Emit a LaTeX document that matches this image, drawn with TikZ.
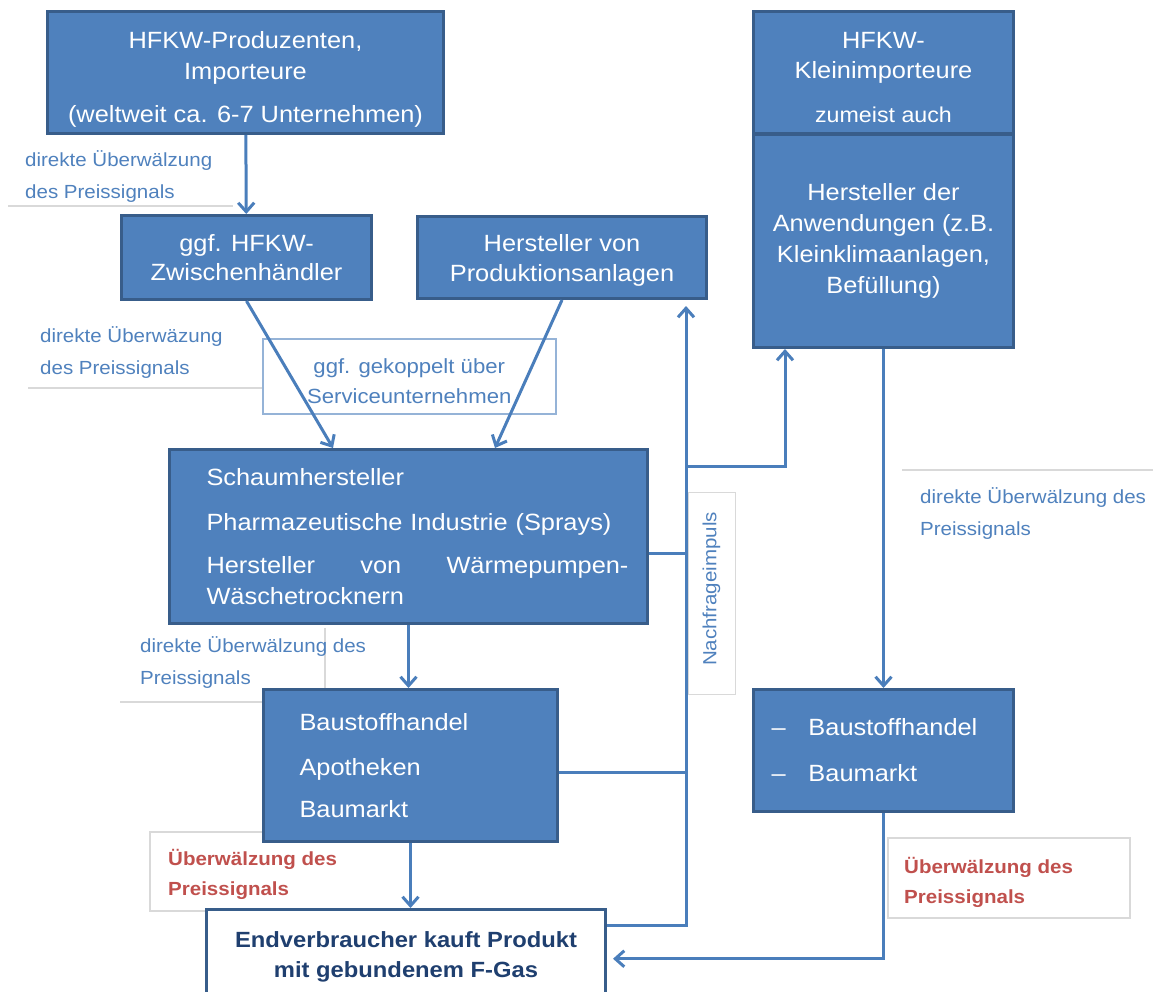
\documentclass[tikz,border=0pt]{standalone}
\usepackage{fontspec}
\setmainfont{Liberation Sans}[FakeStretch=1.08]
\usetikzlibrary{arrows.meta,calc}
\definecolor{boxfill}{HTML}{4F81BD}
\definecolor{boxline}{HTML}{385D8A}
\definecolor{conncol}{HTML}{4A7EBB}
\definecolor{labblue}{HTML}{4F81BD}
\definecolor{labred}{HTML}{C0504D}
\definecolor{navy}{HTML}{1F3F6F}
\definecolor{lgray}{HTML}{D9D9D9}
\definecolor{lblue}{HTML}{95B3D7}
\begin{document}
\begin{tikzpicture}[x=1pt,y=-1pt,
  bluebox/.style={draw=boxline, fill=boxfill, line width=3pt, text=white,
    font=\fontsize{23.5}{31}\selectfont, inner sep=0pt, anchor=north west, align=center},
  conn/.style={draw=conncol, line width=3pt},
  tipped/.style={conn, -{Straight Barb[length=9pt,width=16pt]}},
  lab/.style={text=labblue, font=\fontsize{19}{32}\selectfont, inner sep=0pt, align=left, anchor=west},
  redlab/.style={text=labred, font=\bfseries\fontsize{19}{30}\selectfont, inner sep=0pt, align=left, anchor=west},
  grayline/.style={draw=lgray, line width=1.5pt},
]
\useasboundingbox (0,0) rectangle (1153,991);

% label frames (light gray)
\draw[grayline] (8,206) -- (233,206);
\draw[grayline] (28,388) -- (263,388);
\draw[grayline] (120,702) -- (325,702) -- (325,628);
\draw[grayline] (262,832) -- (150,832) -- (150,911) -- (395,911);
\draw[grayline] (902,470) -- (1153,470);
\draw[grayline] (888,838) rectangle (1130,918);

% labels
\node[lab] (L1) at (25,177) {direkte Überwälzung\\des Preissignals};
\node[lab] (L2) at (40,353) {direkte Überwäzung\\des Preissignals};
\node[lab] (L3) at (140,663) {direkte Überwälzung des\\Preissignals};
\node[redlab] (L4) at (168,874) {Überwälzung des\\Preissignals};
\node[lab] (L5) at (920,514) {direkte Überwälzung des\\Preissignals};
\node[redlab] (L6) at (904,882) {Überwälzung des\\Preissignals};

% boxes
\node[bluebox, minimum width=396, minimum height=122] (A) at (46,10)
  {\rule{0pt}{31pt}HFKW-Produzenten,\\Importeure\\[12pt](weltweit ca. 6-7 Unternehmen)};
\node[bluebox, minimum width=250, minimum height=84, font=\fontsize{23.5}{29}\selectfont] (B) at (120,214)
  {ggf. HFKW-\\Zwischenhändler};
\node[bluebox, minimum width=289, minimum height=82, font=\fontsize{23.5}{30}\selectfont] (C) at (416,215)
  {\rule{0pt}{23pt}Hersteller von\\Produktionsanlagen};
\node[bluebox, minimum width=260, minimum height=122, font=\fontsize{23.5}{30}\selectfont] (D1) at (752,10)
  {\rule{0pt}{27pt}HFKW-\\Kleinimporteure\\[14pt]{\fontsize{21.5}{26}\selectfont zumeist auch}};
\node[bluebox, minimum width=260, minimum height=213] (D2) at (752,133)
  {Hersteller der\\Anwendungen (z.B.\\Kleinklimaanlagen,\\Befüllung)};
\node[bluebox, minimum width=478, minimum height=174, align=left, text width=404pt] (E) at (168,448)
  {Schaumhersteller\\[14pt]\mbox{Pharmazeutische Industrie (Sprays)}\\[12pt]\makebox[422pt][l]{Hersteller\hfill von\hfill Wärmepumpen-}\\Wäschetrocknern};
\node[bluebox, minimum width=294, minimum height=152, align=left, text width=222pt] (F) at (262,688)
  {Baustoffhandel\\[14pt]Apotheken\\[11pt]Baumarkt};
\node[bluebox, minimum width=260, minimum height=122, align=left, text width=224pt] (H) at (752,688)
  {\makebox[37pt][l]{–}Baustoffhandel\\[15pt]\makebox[37pt][l]{–}Baumarkt};
\node[draw=boxline, fill=white, line width=3pt, anchor=north west, minimum width=399, minimum height=86,
  text=navy, font=\bfseries\fontsize{22}{30}\selectfont, align=center, inner sep=0pt] (G) at (205,908)
  {\rule{0pt}{24pt}Endverbraucher kauft Produkt\\mit gebundenem F-Gas};

% service box and demand label
\node[draw=lblue, line width=1.5pt, fill=white, anchor=north west, minimum width=293, minimum height=75,
  inner sep=0pt, text=labblue, font=\fontsize{20.5}{30}\selectfont, align=center] (S) at (262,338)
  {\rule{0pt}{25pt}ggf. gekoppelt über\\Serviceunternehmen};
\node[draw=lgray, line width=1pt, rotate=90, minimum width=202, minimum height=47, inner sep=0pt,
  text=labblue, font=\fontsize{19}{22}\selectfont] (N) at (711.5,593) {\hspace*{8pt}Nachfrageimpuls};

% connectors
\coordinate (nx) at (686,0);
\coordinate (nj) at (686,466);
\draw[tipped] (A) -- (B);
\draw[tipped] (B.south) -- ($(E.north west)+(165,0)$);
\draw[tipped] (C.south) -- ($(E.north west)+(327,0)$);
\draw[tipped] (E.south) -- (E.south |- F.north);
\draw[tipped] (F.south) -- (F.south |- G.north);
\draw[tipped] (D2.south) -- (D2.south |- H.north);
\coordinate (gin) at ($(G.north east)!0.57!(G.south east)$);
\draw[tipped] (H.south) |- ($(gin)+(6,0)$);
\coordinate (gout) at ($(G.north east)!0.2!(G.south east)$);
\draw[tipped] (gout) -| ($(nx |- C.south)+(0,6)$);
\draw[conn] ($(F.east)+(0,7)$) -- ($(F.east -| nx)+(0,7)$);
\draw[conn] ($(E.east)+(0,17)$) -- ($(E.east -| nx)+(0,17)$);
\draw[tipped] (nj) -| ($(D2.south west)+(33,0)$);
\end{tikzpicture}
\end{document}
